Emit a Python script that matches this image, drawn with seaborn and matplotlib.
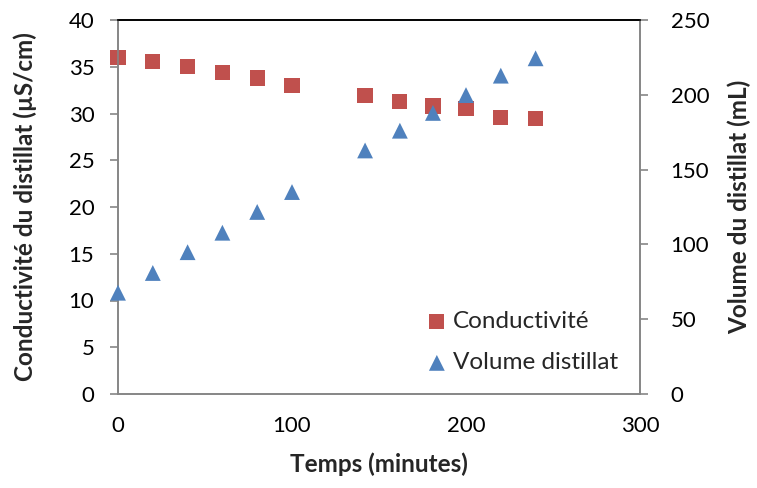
import matplotlib
matplotlib.use("Agg")
import matplotlib.pyplot as plt
import seaborn as sns
import pandas as pd

# Data
temps = [0, 20, 40, 60, 80, 100, 142, 162, 181, 200, 220, 240]
conductivite = [36.0, 35.6, 35.0, 34.4, 33.8, 33.0, 31.9, 31.3, 30.8, 30.5, 29.6, 29.5]
volume = [67.7, 80.9, 94.8, 107.8, 121.7, 135.0, 162.8, 176.0, 187.9, 199.8, 212.8, 224.4]

df = pd.DataFrame({"temps": temps, "cond": conductivite, "vol": volume})

sns.set_theme(style="white")
plt.rcParams["font.family"] = ["Lato", "DejaVu Sans"]
fs = 16
fs_lab = 17.5

red = "#C0504D"
blue = "#4F81BD"
grey = "#868686"

fig, ax = plt.subplots(figsize=(7.57, 4.88), dpi=100)
fig.subplots_adjust(left=118/757, right=640/757, top=1-20/488, bottom=1-394/488)
ax2 = ax.twinx()

sns.scatterplot(data=df, x="temps", y="cond", ax=ax, marker="s", s=120,
                color=red, edgecolor="none", label="Conductivité", legend=False,
                clip_on=False, zorder=5)
sns.scatterplot(data=df, x="temps", y="vol", ax=ax2, marker="^", s=130,
                color=blue, edgecolor="none", label="Volume distillat", legend=False,
                clip_on=False, zorder=5)

ax.set_xlim(0, 300)
ax.set_ylim(0, 40)
ax2.set_ylim(0, 250)
ax.set_xticks([0, 100, 200, 300])
ax.set_yticks(range(0, 41, 5))
ax2.set_yticks(range(0, 251, 50))

for a in (ax, ax2):
    for side in ("left", "right", "bottom"):
        a.spines[side].set_color(grey)
        a.spines[side].set_linewidth(1.2)
    a.spines["top"].set_color("black")
    a.spines["top"].set_linewidth(1.2)
    a.tick_params(labelsize=fs, colors="black", length=6, width=1.2, color=grey)
    a.tick_params(axis="both", direction="out")

ax.tick_params(axis="y", pad=11)
ax2.tick_params(axis="y", pad=16)
ax.tick_params(axis="x", pad=10)
ax.set_xlabel("Temps (minutes)", fontsize=fs_lab, fontweight="bold", labelpad=12)
ax.set_ylabel("Conductivité du distillat (µS/cm)", fontsize=fs_lab, fontweight="bold", labelpad=23)
ax2.set_ylabel("Volume du distillat (mL)", fontsize=fs_lab, fontweight="bold", labelpad=13)

h1, l1 = ax.get_legend_handles_labels()
h2, l2 = ax2.get_legend_handles_labels()
ax2.legend(h1 + h2, l1 + l2, loc="lower right", bbox_to_anchor=(0.99, 0.01),
           frameon=False, fontsize=fs_lab, handletextpad=0.1, labelspacing=0.85,
           handlelength=1.1, borderaxespad=0.3)

fig.savefig("out.png", dpi=100)
